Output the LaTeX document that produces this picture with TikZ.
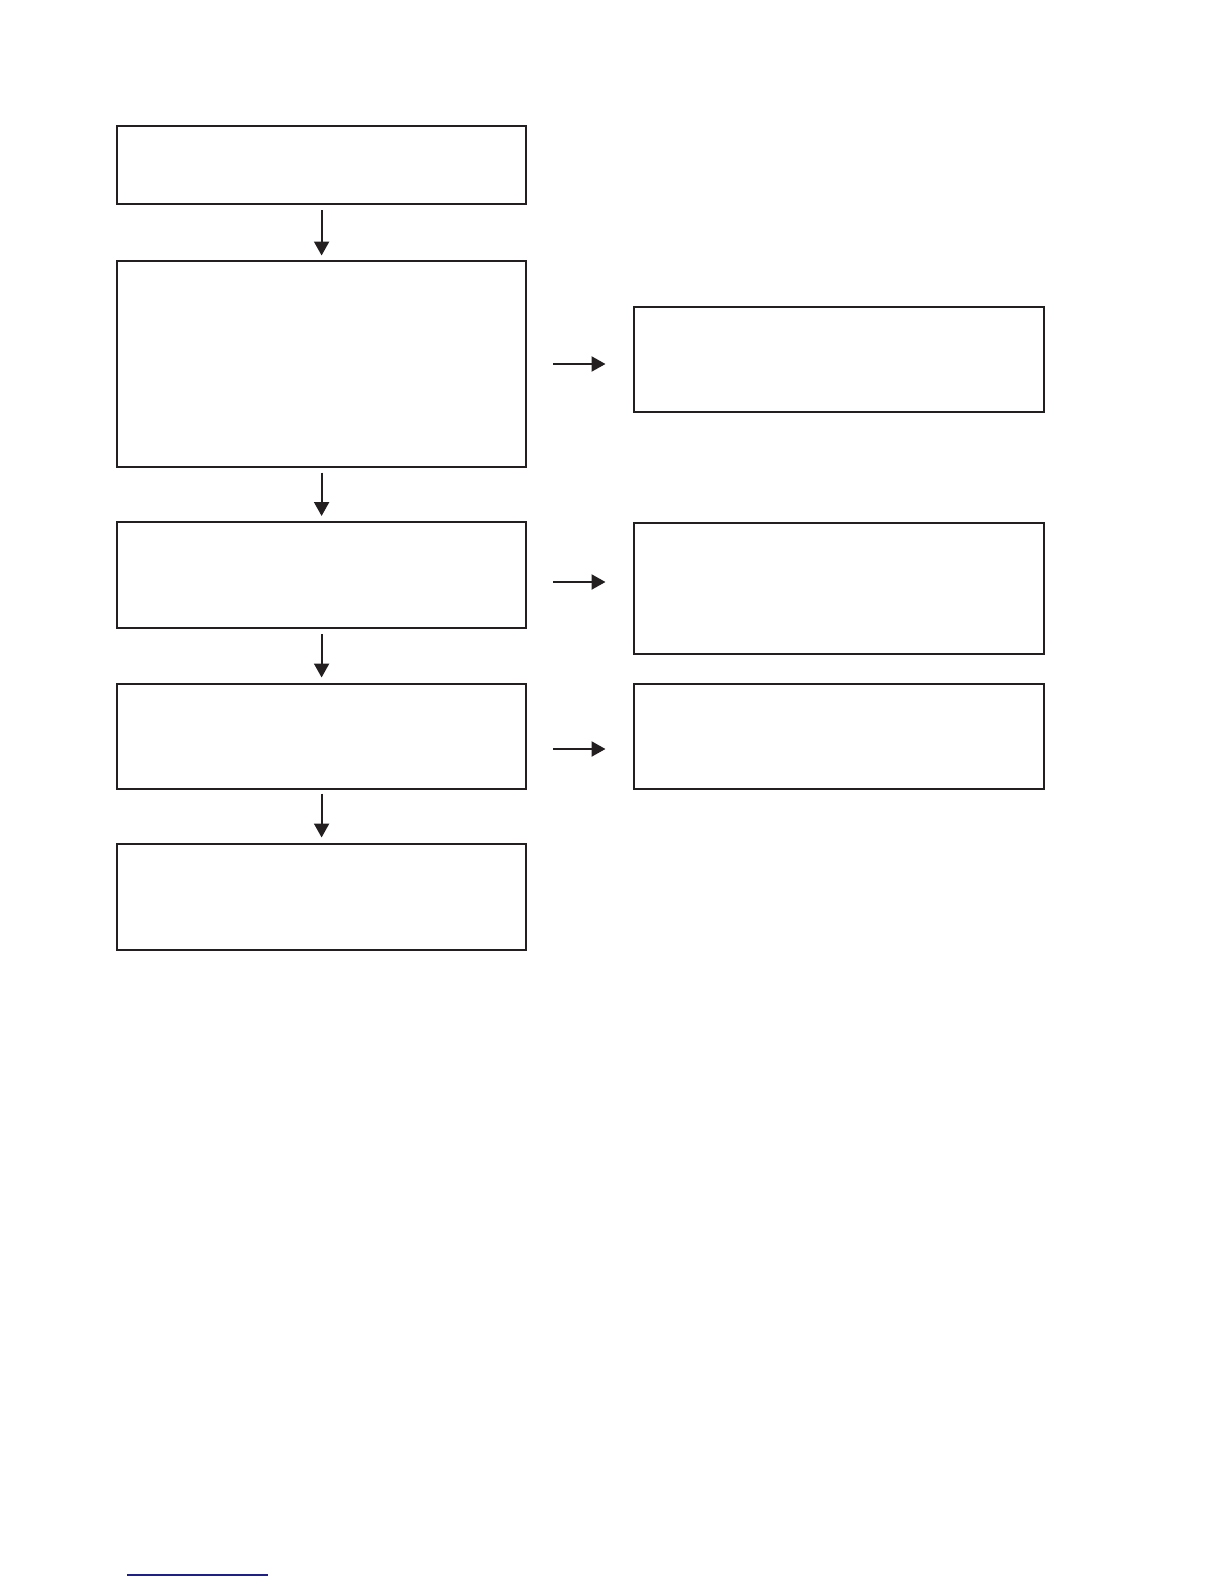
\documentclass[tikz,border=0pt]{standalone}
\usepackage{xcolor}
\usepackage{tikz}
\usetikzlibrary{arrows.meta, positioning, calc}
\definecolor{mydark}{RGB}{35,31,32}
\definecolor{mynavy}{RGB}{30,30,140}
\tikzset{
  block/.style={rectangle, draw=mydark, fill=white, line width=1.1pt,
    inner sep=0pt, minimum width=204.5pt, anchor=north west},
  sideblock/.style={rectangle, draw=mydark, fill=white, line width=1pt,
    inner sep=0pt, minimum width=205pt, anchor=north west},
  arrow/.style={-{Triangle[length=7pt, width=7.5pt]}, line width=1.1pt, color=mydark},
  rule/.style={line width=0.7pt, color=mynavy}
}
\begin{document}
\begin{tikzpicture}[x=0.5pt, y=-0.5pt]
  \useasboundingbox (0,0) rectangle (1224,1584);

  % Main column
  \node[block, minimum height=39pt] (s1) at (116,125) {};
  \node[block, minimum height=103pt] (s2) at (116,259.5) {};
  \node[block, minimum height=53pt] (s3) at (116,521) {};
  \node[block, minimum height=52.5pt] (s4) at (116,682.5) {};
  \node[block, minimum height=53pt] (s5) at (116,842.5) {};

  % Side column
  \node[sideblock, minimum height=52.5pt] (r1) at (632.5,305.5) {};
  \node[sideblock, minimum height=65.5pt] (r2) at (632.5,521.5) {};
  \node[sideblock, minimum height=52.5pt] (r3) at (632.5,683) {};

  % Down arrows
  \draw[arrow, shorten <=2.5pt, shorten >=2pt] (s1.south) -- (s2.north);
  \draw[arrow, shorten <=2.5pt, shorten >=2.5pt] (s2.south) -- (s3.north);
  \draw[arrow, shorten <=2.5pt, shorten >=2.5pt] (s3.south) -- (s4.north);
  \draw[arrow, shorten <=2pt, shorten >=2.5pt] (s4.south) -- (s5.north);

  % Side arrows
  \draw[arrow, shorten <=13pt, shorten >=13.5pt] (s2.east |- 0,364) -- (r1.west |- 0,364);
  \draw[arrow, shorten <=13pt, shorten >=13.5pt] (s3.east |- 0,582) -- (r2.west |- 0,582);
  \draw[arrow, shorten <=13pt, shorten >=13.5pt] (s4.east |- 0,749) -- (r3.west |- 0,749);

  % Footer rule
  \coordinate (f1) at (127,1575);
  \coordinate (f2) at (268,1575);
  \draw[rule] (f1) -- (f2);
\end{tikzpicture}
\end{document}
